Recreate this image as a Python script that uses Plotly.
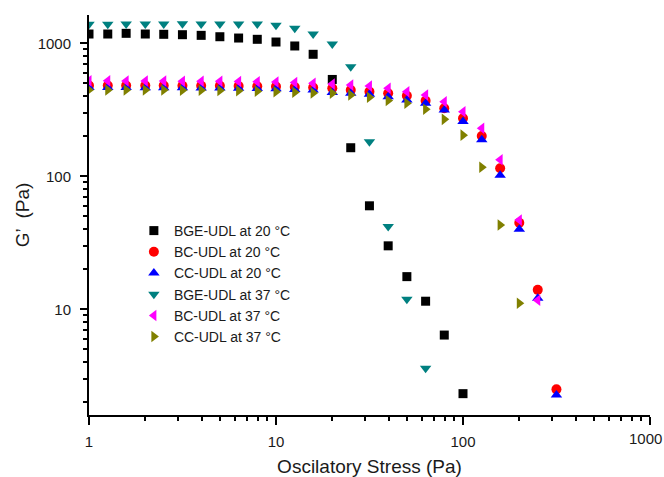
import math
import plotly.graph_objects as go

stress = [1, 1.26, 1.58, 2, 2.51, 3.16, 3.98, 5.01, 6.31, 7.94, 10, 12.6, 15.8,
          20, 25.1, 31.6, 39.8, 50.1, 63.1, 79.4, 100, 126, 158, 200, 251, 316]

bge_20 = [1175, 1175, 1189, 1175, 1169, 1161, 1148, 1121, 1096, 1072, 1023, 955, 827,
          535, 164, 60, 30, 17.6, 11.5, 6.4, 2.32]
bc_20 = [482, 482, 482, 481, 481, 480, 480, 479, 478, 476, 474, 470, 465,
         459, 445, 433, 421, 404, 370, 325, 273, 201, 115, 44.8, 14.0, 2.5]
cc_20 = [465, 465, 465, 464, 464, 463, 462, 461, 460, 458, 455, 450, 445,
         426, 421, 414, 397, 375, 354, 315, 258, 188, 102, 40, 12.1, 2.27]
bge_37 = [1390, 1390, 1395, 1395, 1395, 1405, 1395, 1395, 1395, 1397, 1365, 1296, 1175,
          988, 667, 182, 42, 11.9, 3.6]
bc_37 = [522, 522, 521, 520, 520, 519, 519, 518, 517, 515, 512, 507, 500,
         494, 486, 477, 459, 433, 409, 364, 306, 230, 133, 47, 11.7]
cc_37 = [446, 446, 446, 445, 445, 444, 443, 442, 440, 437, 433, 428, 424,
         421, 409, 393, 371, 354, 319, 268, 204, 117, 43, 11.1]

names = ["BGE-UDL at 20 °C", "BC-UDL at 20 °C", "CC-UDL at 20 °C",
         "BGE-UDL at 37 °C", "BC-UDL at 37 °C", "CC-UDL at 37 °C"]
series = [bge_20, bc_20, cc_20, bge_37, bc_37, cc_37]
colors = ["#000000", "#FF0000", "#0000FF", "#008080", "#FF00FF", "#808000"]
symbols = ["square", "circle", "triangle-up", "triangle-down", "triangle-left", "triangle-right"]
sizes = [9, 10, 10, 10, 10, 10]

x_major = [1, 10, 100, 1000]
x_major_text = ["1", "10", "100", "1000"]
y_major = [10, 100, 1000]
y_major_text = ["10", "100", "1000"]
minor_vals = [m * d for d in (1, 10, 100) for m in range(2, 10)]

FONT = "Arial, Liberation Sans, sans-serif"
TXT = "#1a1a1a"

fig = go.Figure()
for name, ys, c, s, sz in zip(names, series, colors, symbols, sizes):
    fig.add_trace(go.Scatter(
        x=stress[:len(ys)], y=ys, mode="markers", name=name,
        marker=dict(symbol=s, color=c, size=sz, line=dict(width=0)),
    ))

fig.update_layout(
    width=664, height=477,
    margin=dict(l=89, r=14, t=15, b=62),
    paper_bgcolor="white", plot_bgcolor="white",
    font=dict(family=FONT, color=TXT, size=15),
    showlegend=True,
    legend=dict(x=0.08, y=0.50, xanchor="left", yanchor="top",
                bgcolor="rgba(0,0,0,0)", font=dict(size=14, color=TXT),
                tracegroupgap=0),
)
# the last x tick label sits on the figure edge (clipped in the original), so it is
# drawn as a right-anchored annotation at that tick to stay inside the page
fig.update_xaxes(
    type="log", range=[0, 3], showgrid=False, zeroline=False, automargin=False,
    showline=True, linecolor="black", linewidth=2, mirror=False,
    tickmode="array", tickvals=x_major, ticktext=x_major_text[:-1] + [""],
    ticks="outside", ticklen=8, tickwidth=1.5, tickcolor="black",
    tickfont=dict(size=15, color=TXT), ticklabelstandoff=4,
    minor=dict(tickmode="array", tickvals=minor_vals, ticks="outside",
               ticklen=4, tickwidth=1.5, tickcolor="black", showgrid=False),
    title=dict(text="Oscilatory Stress (Pa)", font=dict(size=19, color=TXT), standoff=16),
)
fig.add_annotation(
    x=math.log10(x_major[-1]), xref="x", y=0, yref="paper",
    text=x_major_text[-1], showarrow=False, xanchor="right", yanchor="top",
    xshift=14, yshift=-13, font=dict(size=15, color=TXT, family=FONT),
)
fig.update_yaxes(
    type="log", range=[0.205, 3.213], showgrid=False, zeroline=False, automargin=False,
    showline=True, linecolor="black", linewidth=2, mirror=False,
    tickmode="array", tickvals=y_major, ticktext=y_major_text,
    ticks="outside", ticklen=7, tickwidth=1.5, tickcolor="black",
    tickfont=dict(size=15, color=TXT), ticklabelstandoff=6,
    minor=dict(tickmode="array", tickvals=minor_vals, ticks="outside",
               ticklen=4, tickwidth=1.5, tickcolor="black", showgrid=False),
    title=dict(text="G’  (Pa)", font=dict(size=19, color=TXT), standoff=3),
)

# remove the browser's default 8px body margin so the figure fills the window exactly
fig.write_html("out.html", post_script="document.body.style.margin='0px';",
               config={"displayModeBar": False})
